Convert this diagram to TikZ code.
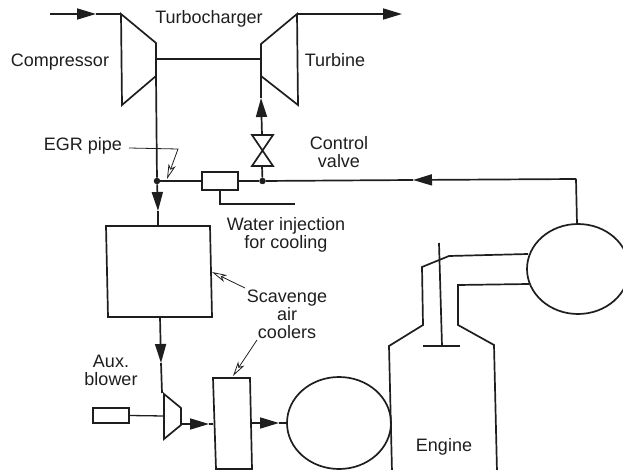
\documentclass[tikz,border=0pt]{standalone}
\usepackage{fontspec}
\setmainfont{Liberation Sans}
\usetikzlibrary{arrows.meta}
\definecolor{ink}{HTML}{1E1E1E}
\tikzset{
  pipe/.style={draw=ink,line width=1.7pt,line join=miter},
  thin pipe/.style={draw=ink,line width=1.3pt},
  flowtip/.style={pipe,-{Triangle[length=19pt,width=11pt]}},
  lead/.style={draw=ink,line width=0.8pt,-{Stealth[open,length=15pt,width=7.5pt,inset=4pt]}},
  lbl/.style={text=ink,font=\fontsize{18}{18}\selectfont,inner sep=0pt,align=center},
  dot/.style={circle,fill=ink,inner sep=0pt,minimum size=6.5pt},
  box/.style={pipe,fill=white}
}
\begin{document}
\begin{tikzpicture}[x=1pt,y=-1pt]
\useasboundingbox (0,0) rectangle (623,470);
\clip (0,0) rectangle (623,470);
% reference points
\coordinate (inA) at (50,14);
\coordinate (inTip) at (96,14);
\coordinate (compTop) at (121,14);
\coordinate (compShaft) at (156,59);
\coordinate (turbShaft) at (261,59);
\coordinate (compOut) at (156,76);
\coordinate (turbTop) at (297,14);
\coordinate (outTip) at (402,14);
\coordinate (turbIn) at (261,76);
\coordinate (upTip) at (261,98);
\coordinate (downTip) at (158,211);
\coordinate (cooler1Top) at (158,226);
\coordinate (cooler1Bot) at (160,317);
\coordinate (downTip2) at (161,363);
\coordinate (blowTop) at (162,393);
\coordinate (blowIn) at (164,416);
\coordinate (blowOut) at (181,424);
\coordinate (blowTip) at (209,424);
\coordinate (cool2In) at (213,424);
\coordinate (cool2Out) at (251,423);
\coordinate (cool2Tip) at (279,423);
\coordinate (recvIn) at (287,423);
\coordinate (exTop) at (577,224);
\coordinate (exCorner) at (576,179);
\coordinate (exTip) at (413,180);
\coordinate (waterEnd) at (295,204);
\coordinate (waterCorner) at (220,204);
\coordinate (waterStart) at (220,190);
\coordinate (egrStart) at (129,148);
\coordinate (egrBend) at (178,149);
\coordinate (egrTip) at (167,179);
\coordinate (scavStart) at (245,288);
\coordinate (scavTip) at (212,272);
\coordinate (airStart) at (257,340);
\coordinate (airTip) at (233,376);
% turbocharger
\draw[pipe] (121,14) -- (156,43) -- (156,76) -- (122,105) -- cycle;
\draw[pipe] (297,14) -- (261,44) -- (261,76) -- (298,105) -- cycle;
\draw[pipe] (compShaft) -- (turbShaft);
\draw[flowtip] (inA) -- (inTip);
\draw[pipe] (inTip) -- (compTop);
\draw[flowtip] (turbTop) -- (outTip);
% junctions and pipes
\node[dot] (j1) at (157,181) {};
\node[dot] (j2) at (262.5,181) {};
\draw[pipe] (compOut) -- (j1);
\draw[flowtip] (j1) -- (downTip);
\draw[pipe] (downTip) -- (cooler1Top);
\draw[pipe] (exTop) -- (exCorner);
\draw[flowtip] (exCorner) -- (exTip);
\draw[pipe] (exTip) -- (j2);
\draw[pipe] (j1) -- (j2);
% valve
\draw[pipe,fill=white] (252,135) -- (273,135) -- (252,166) -- (273,166) -- cycle;
\draw[pipe] (j2) -- (262,166);
\draw[flowtip] (262,135) -- (upTip);
\draw[pipe] (upTip) -- (turbIn);
% water injector
\node[box,minimum width=36pt,minimum height=18pt,inner sep=0pt] (inj) at (220,181) {};
\draw[thin pipe] (waterStart) -- (waterCorner) -- (waterEnd);
% scavenge cooler
\draw[box] (106,226) -- (210,226) -- (212,317) -- (108,317) -- cycle;
\draw[flowtip] (cooler1Bot) -- (downTip2);
\draw[pipe] (downTip2) -- (blowTop);
% blower
\draw[pipe] (164,394) -- (181,408) -- (181,425) -- (164,439) -- cycle;
\node[pipe,minimum width=36pt,minimum height=15pt,inner sep=0pt] (motor) at (111,415.5) {};
\draw[thin pipe] (motor.east) -- (blowIn);
\draw[flowtip] (blowOut) -- (blowTip);
\draw[pipe] (blowTip) -- (cool2In);
% second cooler
\draw[pipe] (213,378) -- (250,378) -- (252,469) -- (216,469) -- cycle;
\draw[flowtip] (cool2Out) -- (cool2Tip);
\draw[pipe] (cool2Tip) -- (recvIn);
% scavenge receiver
\draw[pipe] (339,423) ellipse [x radius=52,y radius=46];
% engine
\draw[pipe] (392,472) -- (389,346) -- (423,325) -- (422,267) -- (449,256) -- (528,254);
\draw[pipe] (497,472) -- (494,345) -- (458,325) -- (458,285) -- (529,284);
\draw[pipe] (439,243) -- (442,346);
\draw[pipe] (423,346) -- (460,346);
% exhaust receiver
\draw[pipe,fill=white] (578,269) ellipse [x radius=51,y radius=45];
% leaders
\draw[lead] (egrStart) -- (egrBend) -- (egrTip);
\draw[lead] (scavStart) -- (scavTip);
\draw[lead] (airStart) -- (airTip);
% labels
\node[lbl] (tc) at (209,19) {Turbocharger};
\node[lbl] (cp) at (60,62) {Compressor};
\node[lbl] (tb) at (335,60) {Turbine};
\node[lbl] (egr) at (83,146) {EGR pipe};
\node[lbl] (cv) at (339,152.5) {Control\\valve};
\node[lbl] (wi) at (286,234.5) {Water injection\\for cooling};
\node[lbl] (sc) at (287,314.5) {Scavenge\\air\\coolers};
\node[lbl] (ab) at (111,370) {Aux.\\blower};
\node[lbl] (en) at (444,447) {Engine};
\end{tikzpicture}
\end{document}
